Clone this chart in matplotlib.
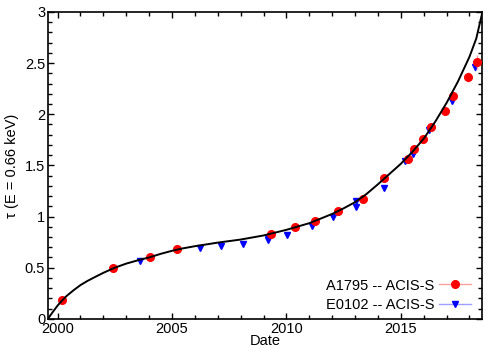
import matplotlib

matplotlib.use("Agg")
import matplotlib.pyplot as plt
from matplotlib.lines import Line2D
from matplotlib.ticker import MultipleLocator

plt.rcParams["font.family"] = ["Liberation Sans", "DejaVu Sans"]

# A1795 -- ACIS-S (red circles)
a1795_date = [2000.19, 2002.43, 2004.04, 2005.22, 2009.31, 2010.37, 2011.27, 2012.26,
              2013.33, 2014.27, 2015.32, 2015.58, 2015.96, 2016.32, 2016.95, 2017.30,
              2017.92, 2018.32]
a1795_tau = [0.18, 0.495, 0.605, 0.68, 0.83, 0.895, 0.952, 1.05, 1.176, 1.375, 1.565,
             1.66, 1.755, 1.875, 2.035, 2.18, 2.36, 2.51]
a1795_err = [0.01, 0.01, 0.01, 0.01, 0.015, 0.015, 0.015, 0.015, 0.02, 0.02, 0.02,
             0.03, 0.03, 0.03, 0.04, 0.04, 0.05, 0.07]

# E0102 -- ACIS-S (blue triangles)
e0102_date = [2003.60, 2006.23, 2007.12, 2008.11, 2009.18, 2009.18, 2010.01, 2011.10,
              2012.04, 2013.06, 2013.06, 2014.27, 2015.19, 2015.55, 2016.24, 2017.25,
              2018.23]
e0102_tau = [0.567, 0.697, 0.713, 0.73, 0.789, 0.766, 0.821, 0.912, 0.997, 1.092,
             1.147, 1.277, 1.54, 1.616, 1.845, 2.125, 2.463]
e0102_err = [0.01, 0.01, 0.01, 0.01, 0.015, 0.015, 0.015, 0.015, 0.015, 0.02, 0.02,
             0.02, 0.02, 0.02, 0.03, 0.03, 0.04]

# model curve
model_date = [1999.58, 1999.7, 1999.85, 2000.0, 2000.2, 2000.4, 2000.7, 2001.0, 2001.3,
              2001.6, 2002.0, 2002.5, 2003.0, 2003.6, 2004.0, 2004.5, 2005.0, 2005.5,
              2006.0, 2007.0, 2008.0, 2009.0, 2010.0, 2011.0, 2012.0, 2012.5, 2013.0,
              2013.5, 2014.0, 2014.5, 2015.0, 2015.5, 2016.0, 2016.5, 2017.0, 2017.5,
              2018.0, 2018.3, 2018.55]
model_tau = [0.0, 0.04, 0.085, 0.13, 0.18, 0.225, 0.28, 0.33, 0.37, 0.405, 0.45, 0.50,
             0.54, 0.578, 0.60, 0.635, 0.665, 0.69, 0.71, 0.745, 0.775, 0.815, 0.87,
             0.935, 1.025, 1.08, 1.14, 1.22, 1.315, 1.415, 1.515, 1.63, 1.76, 1.925,
             2.11, 2.32, 2.56, 2.74, 2.98]

RED = "#ff0000"
BLUE = "#0000ff"
PINK = "#ff9f9f"
LIGHTBLUE = "#9f9fff"

fig = plt.figure(figsize=(5, 3.5), dpi=100)
ax = fig.add_axes([0.096, 0.089, 0.868, 0.877])

ax.errorbar(a1795_date, a1795_tau, yerr=a1795_err, fmt="o", color=RED, ms=5.5,
            ecolor=PINK, elinewidth=1, capsize=0, zorder=3)
ax.errorbar(e0102_date, e0102_tau, yerr=e0102_err, fmt="v", color=BLUE, ms=5,
            ecolor=LIGHTBLUE, elinewidth=1, capsize=0, zorder=2)
ax.plot(model_date, model_tau, color="black", linewidth=1.4, zorder=4)

ax.set_xlim(1999.58, 2018.55)
ax.set_ylim(0, 3)
ax.xaxis.set_major_locator(MultipleLocator(5))
ax.xaxis.set_minor_locator(MultipleLocator(1))
ax.yaxis.set_major_locator(MultipleLocator(0.5))
ax.yaxis.set_minor_locator(MultipleLocator(0.1))
ax.yaxis.set_major_formatter(lambda v, pos: f"{v:g}")
ax.tick_params(which="both", direction="in", top=True, right=True, labelsize=10.5)
ax.tick_params(which="major", length=4, width=1, pad=2)
ax.tick_params(which="minor", length=3, width=1)
for s in ax.spines.values():
    s.set_linewidth(1.2)

ax.set_xlabel("Date", fontsize=10.5, labelpad=-1)
ax.set_ylabel("τ (E = 0.66 keV)", fontsize=10.5, labelpad=4)

handles = [
    Line2D([], [], color=PINK, marker="o", mfc=RED, mec=RED, ms=5.5, lw=1),
    Line2D([], [], color=LIGHTBLUE, marker="v", mfc=BLUE, mec=BLUE, ms=5, lw=1),
]
ax.legend(handles, ["A1795 -- ACIS-S", "E0102 -- ACIS-S"], loc="lower right",
          frameon=False, markerfirst=False, fontsize=10.5, handlelength=2.2,
          handletextpad=0.3, labelspacing=0.35, borderaxespad=0.2,
          bbox_to_anchor=(0.995, -0.005))

fig.savefig("out.png")
